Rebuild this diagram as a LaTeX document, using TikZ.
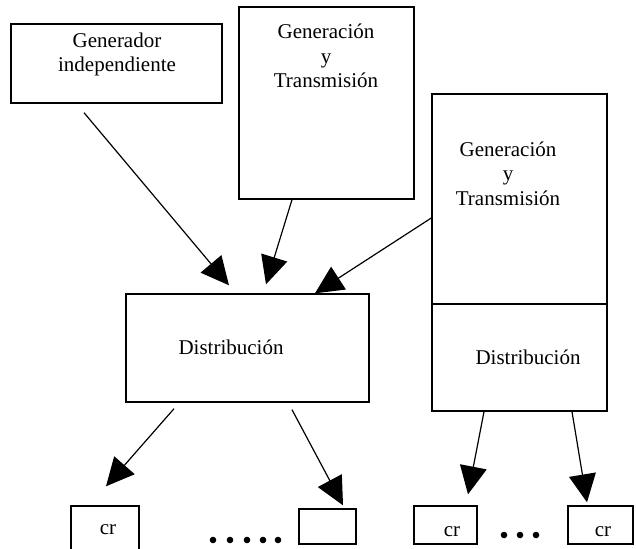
\documentclass[tikz,border=0pt]{standalone}
\usepackage{fontspec}
\setmainfont{Liberation Serif}
\usetikzlibrary{arrows.meta}

\tikzset{
    box/.style={draw, rectangle, line width=1.4pt, inner sep=0pt},
    lbl/.style={align=center, inner sep=0pt, font=\fontsize{21}{24.5}\selectfont},
    arr/.style={-{Triangle[length=28pt,width=27pt]}, line width=1.2pt}
}

\begin{document}
\begin{tikzpicture}[x=1pt, y=-1pt]
    \path[use as bounding box] (0,0) rectangle (636,548);
    \clip (0,0) rectangle (636,548);

    % boxes
    \node[box, minimum width=211pt, minimum height=79pt] (gen) at (116.5, 63.5) {};
    \node[box, minimum width=175pt, minimum height=192pt] (gt1) at (326.5, 103) {};
    \node[box, minimum width=175pt, minimum height=210pt] (gt2) at (519.5, 199) {};
    \node[box, minimum width=175pt, minimum height=107pt] (dist2) at (519.5, 357.5) {};
    \node[box, minimum width=243pt, minimum height=108pt] (dist) at (247.5, 348) {};
    \node[box, minimum width=68pt, minimum height=46pt] (cra) at (105, 529) {};
    \node[box, minimum width=57pt, minimum height=35pt] (crb) at (327.5, 526.5) {};
    \node[box, minimum width=63pt, minimum height=38pt] (crc) at (445.5, 525) {};
    \node[box, minimum width=65pt, minimum height=38pt] (crd) at (600.5, 525) {};

    % texts
    \node[lbl] (gentxt) at (117, 54.5) {Generador\\independiente};
    \node[lbl] (gt1txt) at (326, 56) {Generación\\y\\Transmisión};
    \node[lbl] (gt2txt) at (508, 173.5) {Generación\\y\\Transmisión};
    \node[lbl] (disttxt) at (231, 347) {Distribución};
    \node[lbl] (dist2txt) at (528, 357) {Distribución};
    \node[lbl] (cratxt) at (108, 530) {cr};
    \node[lbl] (crctxt) at (452, 532) {cr};
    \node[lbl] (crdtxt) at (603, 532) {cr};

    % arrows
    \draw[arr] ([xshift=-32.5pt, yshift=-9pt]gen.south) -- ([xshift=-18.5pt, yshift=8pt]dist.north);
    \draw[arr] ([xshift=-34.5pt]gt1.south) -- ([xshift=18.5pt, yshift=9pt]dist.north);
    \draw[arr] ([yshift=-19pt]gt2.west) -- ([xshift=67.5pt]dist.north);
    \draw[arr] ([xshift=-73.5pt, yshift=-6pt]dist.south) -- ([xshift=1pt, yshift=19pt]cra.north);
    \draw[arr] ([xshift=44.5pt, yshift=-7pt]dist.south) -- ([xshift=15.5pt, yshift=3pt]crb.north);
    \draw[arr] ([xshift=-35.5pt]dist2.south) -- ([xshift=22.5pt, yshift=11pt]crc.north);
    \draw[arr] ([xshift=52.5pt]dist2.south) -- ([xshift=-13.5pt, yshift=3pt]crd.north);

    % dots
    \foreach \x in {213, 230, 247, 263, 278}
        \fill (\x, 540) circle (3.3pt);
    \foreach \x in {504, 520, 536}
        \fill (\x, 535) circle (3.3pt);
\end{tikzpicture}
\end{document}
